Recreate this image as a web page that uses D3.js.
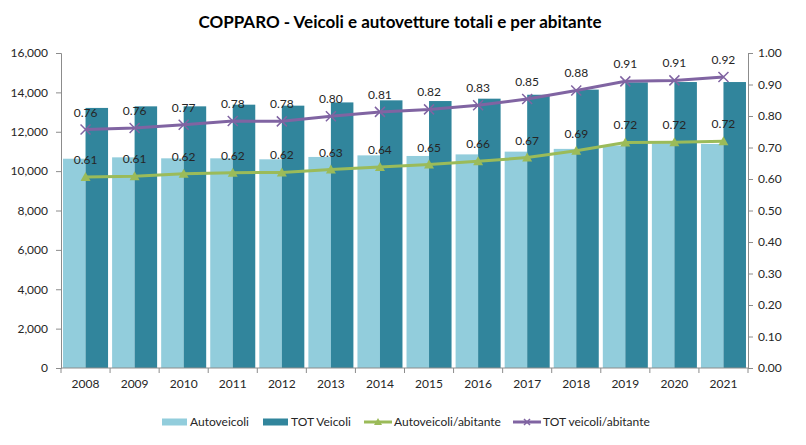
<!DOCTYPE html>
<html>
<head>
<meta charset="utf-8">
<script src="https://cdn.jsdelivr.net/npm/d3@7"></script>
<style>
  body { margin: 0; background: #fff; }
  text { font-family: Lato, "Open Sans", sans-serif; }
  .axis path, .axis line { stroke: #8c8c8c; }
  .axis text { fill: #262626; font-size: 12px; }
</style>
</head>
<body>
<script>
var years = ['2008','2009','2010','2011','2012','2013','2014','2015','2016','2017','2018','2019','2020','2021'];
var autoveicoli = [10630, 10700, 10650, 10650, 10600, 10720, 10800, 10770, 10850, 10990, 11130, 11300, 11420, 11380];
var totVeicoli  = [13210, 13290, 13290, 13375, 13325, 13490, 13595, 13560, 13680, 13880, 14140, 14510, 14525, 14525];
var autoPerAb   = [0.606, 0.609, 0.617, 0.620, 0.621, 0.630, 0.638, 0.646, 0.656, 0.668, 0.690, 0.716, 0.717, 0.720];
var totPerAb    = [0.757, 0.762, 0.772, 0.784, 0.783, 0.799, 0.813, 0.821, 0.834, 0.854, 0.881, 0.910, 0.913, 0.924];
var leftTicks  = [0, 2000, 4000, 6000, 8000, 10000, 12000, 14000, 16000];
var rightTicks = [0, 0.1, 0.2, 0.3, 0.4, 0.5, 0.6, 0.7, 0.8, 0.9, 1.0];

var margin = {top: 53, right: 58, bottom: 77, left: 61},
    width = 806 - margin.left - margin.right,
    height = 445 - margin.top - margin.bottom;

var cLight = '#92cddc', cDark = '#31859c', cGreen = '#9bbb59', cPurple = '#8064a2';

var x = d3.scaleBand().domain(years).range([0, width]).padding(0);
var x1 = d3.scaleBand().domain(['a', 'b']).range([0, x.bandwidth()]).paddingInner(0).paddingOuter(0.09);
var y = d3.scaleLinear().domain([0, 16000]).range([height, 0]);
var y2 = d3.scaleLinear().domain([0, 1]).range([height, 0]);

var svg = d3.select('body').append('svg')
    .attr('width', 806)
    .attr('height', 445);

svg.append('text')
    .attr('x', 400)
    .attr('y', 28)
    .style('text-anchor', 'middle')
    .style('font-weight', 'bold')
    .style('font-size', '17px')
    .style('fill', '#000')
    .text('COPPARO - Veicoli e autovetture totali e per abitante');

var main = svg.append('g')
    .attr('transform', 'translate(' + margin.left + ',' + margin.top + ')');

// bars
var rows = years.map(function(d, i) { return {year: d, a: autoveicoli[i], b: totVeicoli[i]}; });
var grp = main.selectAll('.grp').data(rows).enter().append('g')
    .attr('transform', function(d) { return 'translate(' + x(d.year) + ',0)'; });
grp.append('rect')
    .attr('x', x1('a')).attr('width', x1.bandwidth())
    .attr('y', function(d) { return y(d.a); })
    .attr('height', function(d) { return height - y(d.a); })
    .attr('fill', cLight);
grp.append('rect')
    .attr('x', x1('b')).attr('width', x1.bandwidth())
    .attr('y', function(d) { return y(d.b); })
    .attr('height', function(d) { return height - y(d.b); })
    .attr('fill', cDark);

// axes
main.append('g').attr('class', 'axis')
    .call(d3.axisLeft(y).tickValues(leftTicks).tickSize(5).tickPadding(8).tickFormat(d3.format(',')));
main.append('g').attr('class', 'axis')
    .attr('transform', 'translate(' + width + ',0)')
    .call(d3.axisRight(y2).tickValues(rightTicks).tickSize(5).tickPadding(5).tickFormat(d3.format('.2f')));
var xa = main.append('g').attr('class', 'axis')
    .attr('transform', 'translate(0,' + height + ')')
    .call(d3.axisBottom(x).tickSize(0).tickPadding(11));
xa.select('.domain').attr('d', 'M0,0H' + width);
xa.selectAll('.bound').data(years.concat(['end'])).enter().append('line')
    .attr('x1', function(d) { return d === 'end' ? width : x(d); })
    .attr('x2', function(d) { return d === 'end' ? width : x(d); })
    .attr('y1', 0).attr('y2', 5)
    .attr('stroke', '#8c8c8c');

// lines
var cx = function(d, i) { return x(years[i]) + x.bandwidth() / 2; };
var line = d3.line().x(cx).y(function(d) { return y2(d); });

function series(vals, color, marker) {
    main.append('path').datum(vals)
        .attr('d', line)
        .attr('fill', 'none')
        .attr('stroke', color)
        .attr('stroke-width', 3);
    var m = main.selectAll(null).data(vals).enter().append('g')
        .attr('transform', function(d, i) { return 'translate(' + cx(d, i) + ',' + y2(d) + ')'; });
    if (marker === 'tri') {
        m.append('path').attr('d', 'M0,-5L5,4L-5,4Z').attr('fill', color);
    } else {
        m.append('path').attr('d', 'M-5,-5L5,5M-5,5L5,-5').attr('stroke', color).attr('stroke-width', 1.5);
    }
    main.selectAll(null).data(vals).enter().append('text')
        .attr('x', cx)
        .attr('y', function(d) { return y2(d) - 13; })
        .style('text-anchor', 'middle')
        .style('font-size', '12px')
        .style('fill', '#262626')
        .text(function(d) { return d.toFixed(2); });
}
series(autoPerAb, cGreen, 'tri');
series(totPerAb, cPurple, 'x');

// legend
var lg = svg.append('g').attr('transform', 'translate(0,422)');
var items = [
    {x: 162, label: 'Autoveicoli', color: cLight, type: 'rect'},
    {x: 263, label: 'TOT Veicoli', color: cDark, type: 'rect'},
    {x: 364, label: 'Autoveicoli/abitante', color: cGreen, type: 'tri'},
    {x: 513, label: 'TOT veicoli/abitante', color: cPurple, type: 'x'}
];
items.forEach(function(it) {
    var g = lg.append('g').attr('transform', 'translate(' + it.x + ',0)');
    if (it.type === 'rect') {
        g.append('rect').attr('x', 0).attr('y', -3.5).attr('width', 25).attr('height', 7).attr('fill', it.color);
    } else {
        g.append('line').attr('x1', 0).attr('x2', 28).attr('stroke', it.color).attr('stroke-width', 3);
        if (it.type === 'tri') g.append('path').attr('d', 'M14,-4L18,3L10,3Z').attr('fill', it.color);
        else g.append('path').attr('d', 'M11,-3L17,3M11,3L17,-3').attr('stroke', it.color).attr('stroke-width', 1.5);
    }
    g.append('text')
        .attr('x', it.type === 'rect' ? 28 : 30)
        .attr('y', 4)
        .style('font-size', '12px')
        .style('fill', '#262626')
        .text(it.label);
});
</script>
</body>
</html>
